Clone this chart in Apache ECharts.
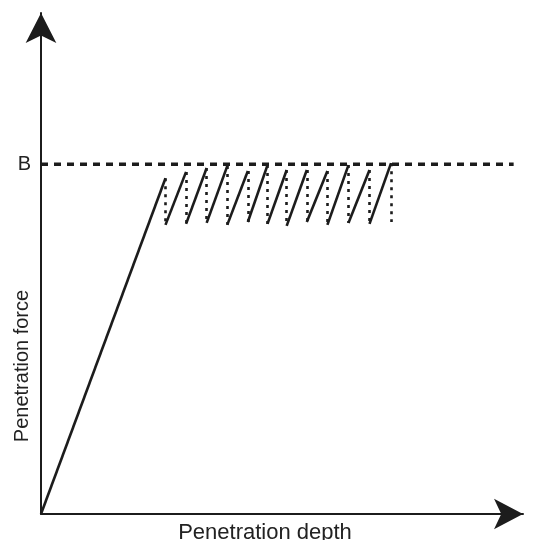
<!DOCTYPE html>
<html>
<head>
<meta charset="utf-8">
<style>html,body{margin:0;padding:0;background:#fff;}#c{width:542px;height:540px;}</style>
<script src="https://cdn.jsdelivr.net/npm/echarts@6/dist/echarts.min.js"></script>
</head>
<body>
<div id="c"></div>
<script>
// Data (arbitrary units)
const levelB = 72;                 // force level B
const bLineEnd = 101.0;            // depth where the B dashed line stops
const peakDepths = [26.6, 31.0, 35.4, 39.8, 44.2, 48.4, 52.5, 56.8, 61.2, 65.7, 70.2, 74.8];
const peakForces = [69.1, 70.4, 71.2, 71.6, 70.6, 71.8, 70.8, 70.8, 70.6, 71.8, 70.8, 72.2];
const troughForces = [59.5, 59.7, 59.9, 59.5, 60.1, 59.7, 59.3, 60.1, 59.5, 59.9, 59.7, 60.1];
const yTickLabels = {72: 'B'};
const xName = 'Penetration depth';
const yName = 'Penetration force';

// Build segments
const solidSegs = [{coords: [[0, 0], [peakDepths[0], peakForces[0]]]}];
const dottedSegs = [];
for (let i = 0; i < peakDepths.length; i++) {
  dottedSegs.push({coords: [[peakDepths[i], peakForces[i]], [peakDepths[i], troughForces[i]]]});
  if (i + 1 < peakDepths.length) {
    solidSegs.push({coords: [[peakDepths[i], troughForces[i]], [peakDepths[i + 1], peakForces[i + 1]]]});
  }
}

const ink = '#1c1c1c';
const chart = echarts.init(document.getElementById('c'), null, {renderer: 'canvas'});
chart.setOption({
  animation: false,
  backgroundColor: '#fff',
  grid: {left: 41, right: 19, top: 13, bottom: 26, containLabel: false, outerBoundsMode: 'none'},
  xAxis: {
    type: 'value', min: 0, max: 103,
    axisLine: {show: true, lineStyle: {color: ink, width: 2}, symbol: ['none', 'arrow'], symbolSize: [23, 29]},
    axisTick: {show: false}, axisLabel: {show: false}, splitLine: {show: false}
  },
  yAxis: {
    type: 'value', min: 0, max: 103.1, interval: 72,
    axisLine: {show: true, lineStyle: {color: ink, width: 2}, symbol: ['none', 'arrow'], symbolSize: [23, 30]},
    axisTick: {show: false}, splitLine: {show: false},
    axisLabel: {
      show: true, margin: 10, color: '#222', fontSize: 20, fontFamily: 'Liberation Sans, Arial, sans-serif',
      padding: [0, 0, 5, 0],
      formatter: v => yTickLabels[v] || ''
    }
  },
  graphic: [
    {type: 'text', x: 265, y: 522, style: {text: xName, fill: '#222', font: '22px "Liberation Sans", Arial, sans-serif', textAlign: 'center', textVerticalAlign: 'top'}},
    {type: 'text', x: 22, y: 366, rotation: Math.PI / 2, style: {text: yName, fill: '#222', font: '20px "Liberation Sans", Arial, sans-serif', textAlign: 'center', textVerticalAlign: 'middle'}}
  ],
  series: [
    {
      type: 'line', data: [[0, levelB], [bLineEnd, levelB]], symbol: 'none', clip: false,
      lineStyle: {color: ink, width: 3.5, type: [7, 6]}
    },
    {
      type: 'lines', coordinateSystem: 'cartesian2d', data: solidSegs, clip: false,
      lineStyle: {color: ink, width: 2.6, opacity: 1, type: 'solid'}
    },
    {
      type: 'lines', coordinateSystem: 'cartesian2d', data: dottedSegs, clip: false,
      lineStyle: {color: ink, width: 2.6, opacity: 1, type: [3, 5]}
    }
  ]
});
</script>
</body>
</html>
